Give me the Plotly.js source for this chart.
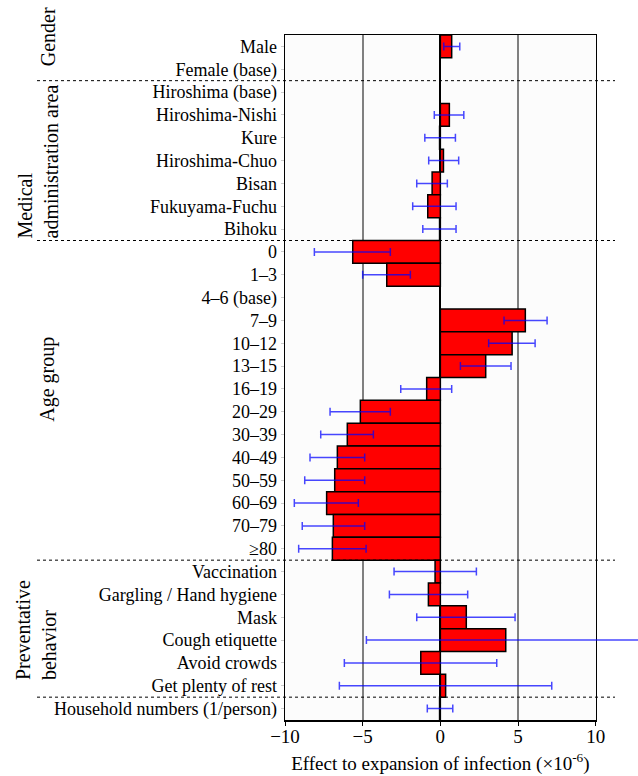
<!DOCTYPE html>
<html>
<head>
<meta charset="utf-8">
<script src="https://cdn.plot.ly/plotly-3.0.1.min.js"></script>
<style>html,body{margin:0;padding:0;background:#fff;}#chart{width:638px;height:776px;}</style>
</head>
<body>
<div id="chart"></div>
<script>
const categories = [
  "Male", "Female (base)",
  "Hiroshima (base)", "Hiroshima-Nishi", "Kure", "Hiroshima-Chuo", "Bisan", "Fukuyama-Fuchu", "Bihoku",
  "0", "1–3", "4–6 (base)", "7–9", "10–12", "13–15", "16–19", "20–29", "30–39", "40–49", "50–59", "60–69", "70–79", "≥80",
  "Vaccination", "Gargling / Hand hygiene", "Mask", "Cough etiquette", "Avoid crowds", "Get plenty of rest",
  "Household numbers (1/person)"
];
const effect = [
  0.73, null,
  null, 0.58, -0.05, 0.20, -0.53, -0.81, -0.05,
  -5.64, -3.45, null, 5.47, 4.62, 2.92, -0.88, -5.15, -5.99, -6.63, -6.80, -7.32, -6.89, -6.95,
  -0.34, -0.77, 1.67, 4.21, -1.26, 0.34,
  -0.05
];
const lower = [
  0.22, null,
  null, -0.39, -1.00, -0.75, -1.52, -1.78, -1.13,
  -8.11, -5.00, null, 4.10, 3.11, 1.29, -2.55, -7.10, -7.70, -8.39, -8.73, -9.40, -8.89, -9.12,
  -2.98, -3.28, -1.52, -4.76, -6.18, -6.50,
  -0.84
];
const upper = [
  1.25, null,
  null, 1.51, 0.97, 1.18, 0.45, 1.01, 1.01,
  -3.22, -1.93, null, 6.87, 6.10, 4.55, 0.73, -3.22, -4.31, -4.87, -4.87, -5.28, -4.87, -4.78,
  2.32, 1.76, 4.81, 13.18, 3.63, 7.17,
  0.80
];
const xTicks = [-10, -5, 0, 5, 10];
const groupLabels = ["Gender", "Medical<br>administration area", "Age group", "Preventative<br>behavior"];
const groupBreaks = [1.5, 8.5, 22.5, 28.5];

const plus = effect.map((v, i) => v == null ? null : upper[i] - v);
const minus = effect.map((v, i) => v == null ? null : v - lower[i]);

const font = "'Liberation Serif', 'Times New Roman', serif";

// geometry: main plot 285..595.7 px, overlay subplot reaches the page edge (638 px)
const W = 638, L = 285, mainW = 310.7;
const mainFrac = mainW / (W - L);
const xMin = -10, xMax = 10;
const x2Max = xMin + (xMax - xMin) / mainFrac;
const px = p => (p - L) / (W - L);

const barTrace = {
  type: 'bar',
  orientation: 'h',
  x: effect,
  y: categories,
  xaxis: 'x', yaxis: 'y',
  marker: {color: '#ff0000', line: {color: '#000000', width: 1.5}},
  hoverinfo: 'none'
};

const errTrace = {
  type: 'scatter',
  mode: 'markers',
  x: effect,
  y: categories,
  xaxis: 'x2', yaxis: 'y2',
  marker: {size: 1, color: 'rgba(0,0,0,0)'},
  error_x: {
    type: 'data', symmetric: false,
    array: plus, arrayminus: minus,
    color: 'rgba(0,0,255,0.72)', thickness: 1.5, width: 4
  },
  hoverinfo: 'none'
};

const shapes = groupBreaks.map(b => ({
  type: 'line', xref: 'paper', yref: 'y',
  x0: px(37), x1: px(615), y0: b, y1: b,
  line: {color: '#000', width: 1, dash: 'dot'}
}));

const annotations = [
  {text: groupLabels[0], x: px(48), y: -0.4, xanchor: 'center', yanchor: 'middle'},
  {text: groupLabels[1], x: px(37), y: 8.5, xanchor: 'center', yanchor: 'bottom', align: 'left'},
  {text: groupLabels[2], x: px(48), y: 14.6, xanchor: 'center', yanchor: 'middle'},
  {text: groupLabels[3], x: px(36), y: 27.84, xanchor: 'center', yanchor: 'bottom', align: 'left'}
].map(a => Object.assign({
  xref: 'paper', yref: 'y', showarrow: false, textangle: -90,
  font: {family: font, size: 20, color: '#000'}
}, a));

const layout = {
  width: W, height: 776,
  margin: {l: L, r: 0, t: 35, b: 56},
  paper_bgcolor: '#ffffff',
  plot_bgcolor: 'rgba(0,0,0,0)',
  bargap: 0,
  showlegend: false,
  font: {family: font, size: 18, color: '#000'},
  xaxis: {
    domain: [0, mainFrac],
    range: [xMin, xMax],
    tickvals: xTicks,
    showgrid: true, gridcolor: '#808080', gridwidth: 2,
    zeroline: true, zerolinecolor: '#000', zerolinewidth: 2,
    showline: true, linecolor: '#000', linewidth: 1.5, mirror: true,
    ticks: 'outside', ticklen: 4, tickcolor: '#000',
    ticklabelstandoff: -5,
    tickfont: {family: font, size: 19, color: '#000'},
    title: {text: 'Effect to expansion of infection (×10<sup>-6</sup>)', font: {family: font, size: 19, color: '#000'}, standoff: 10}
  },
  yaxis: {
    type: 'category',
    categoryorder: 'array', categoryarray: categories,
    range: [categories.length - 0.5, -0.5],
    tickmode: 'array', tickvals: categories, ticktext: categories,
    showgrid: false, zeroline: false,
    showline: true, linecolor: '#000', linewidth: 1.5, mirror: true,
    ticks: 'outside', ticklen: 3, tickcolor: '#cccccc',
    tickfont: {family: font, size: 18, color: '#000'}
  },
  xaxis2: {
    domain: [0, 1], anchor: 'y2',
    range: [xMin, x2Max],
    visible: false, showgrid: false, zeroline: false
  },
  yaxis2: {
    type: 'category', anchor: 'x2', matches: 'y',
    categoryorder: 'array', categoryarray: categories,
    visible: false, showgrid: false, zeroline: false
  },
  shapes: [{
    type: 'rect', xref: 'x domain', yref: 'y domain', layer: 'below',
    x0: 0, x1: 1, y0: 0, y1: 1,
    fillcolor: '#fcfcfc', line: {width: 0}
  }].concat(shapes),
  annotations: annotations
};

Plotly.newPlot('chart', [barTrace, errTrace], layout, {displayModeBar: false, staticPlot: true});
</script>
</body>
</html>
